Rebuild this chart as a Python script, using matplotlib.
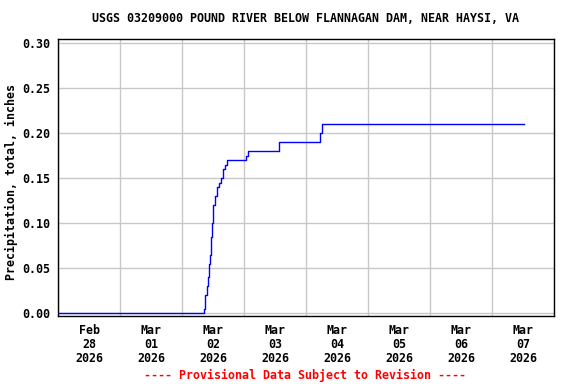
import pandas as pd
import numpy as np
import matplotlib
matplotlib.use("Agg")
import matplotlib.pyplot as plt

# 数据: 时间点 (值在该时刻变化) 和累计降水量
times = ["2026-02-28 00:00", "2026-03-02 08:15", "2026-03-02 08:45", "2026-03-02 09:45",
         "2026-03-02 10:00", "2026-03-02 10:30", "2026-03-02 10:45", "2026-03-02 11:15",
         "2026-03-02 11:30", "2026-03-02 12:00", "2026-03-02 12:30", "2026-03-02 12:45",
         "2026-03-02 13:30", "2026-03-02 14:15", "2026-03-02 15:00", "2026-03-02 15:45",
         "2026-03-02 16:30", "2026-03-02 17:15", "2026-03-03 00:45", "2026-03-03 01:30",
         "2026-03-03 13:15", "2026-03-04 05:15", "2026-03-04 06:00", "2026-03-07 12:15"]
values = [0.00, 0.005, 0.02, 0.03,
          0.04, 0.055, 0.065, 0.085,
          0.10, 0.12, 0.125, 0.13,
          0.14, 0.145, 0.15, 0.16,
          0.165, 0.17, 0.175, 0.18,
          0.19, 0.20, 0.21, 0.21]

days = pd.date_range("2026-02-28", "2026-03-08", freq="D")
tick_labels = ["Feb\n28\n2026", "Mar\n01\n2026", "Mar\n02\n2026", "Mar\n03\n2026",
               "Mar\n04\n2026", "Mar\n05\n2026", "Mar\n06\n2026", "Mar\n07\n2026"]
y_ticks = [0.00, 0.05, 0.10, 0.15, 0.20, 0.25, 0.30]

title = "USGS 03209000 POUND RIVER BELOW FLANNAGAN DAM, NEAR HAYSI, VA"
ylabel = "Precipitation, total, inches"
footer = "---- Provisional Data Subject to Revision ----"

plt.rcParams['font.family'] = ['DejaVu Sans Mono']
plt.rcParams['font.weight'] = 'bold'
fs = 8.4

fig = plt.figure(figsize=(5.76, 3.84), dpi=100)
ax = fig.add_axes([58.3 / 576, 1 - 316 / 384, 496 / 576, 277 / 384])

t = pd.to_datetime(times)
ax.plot(t, values, color="#0000ff", linewidth=1.0, drawstyle="steps-post", zorder=3)

ax.set_xlim(days[0], days[-1])
ax.set_ylim(-0.003, 0.3048)

noons = days[:-1] + pd.Timedelta(hours=12)
ax.set_xticks(noons)
ax.set_xticklabels(tick_labels, fontsize=fs, fontweight='bold', linespacing=1.1)
ax.set_xticks(days, minor=True)
ax.set_yticks(y_ticks)
ax.set_yticklabels(["%.2f" % v for v in y_ticks], fontsize=fs, fontweight='bold')
ax.tick_params(which='both', length=0)
ax.tick_params(axis='x', pad=6)
ax.tick_params(axis='y', pad=6)

ax.grid(axis='y', which='major', color="#c8c8c8", linewidth=1.0)
ax.grid(axis='x', which='minor', color="#c8c8c8", linewidth=1.0)
ax.set_axisbelow(True)
for s in ax.spines.values():
    s.set_linewidth(1.0)
    s.set_color("black")

fig.text(306 / 576, 1 - 19 / 384, title, ha='center', va='center', fontsize=fs, fontweight='bold')
fig.text(11 / 576, 1 - 182 / 384, ylabel, ha='center', va='center', rotation=90, fontsize=fs, fontweight='bold')
fig.text(305.5 / 576, 1 - 375 / 384, footer, ha='center', va='center', fontsize=fs, fontweight='bold', color="red")

fig.savefig("out.png", dpi=100)
